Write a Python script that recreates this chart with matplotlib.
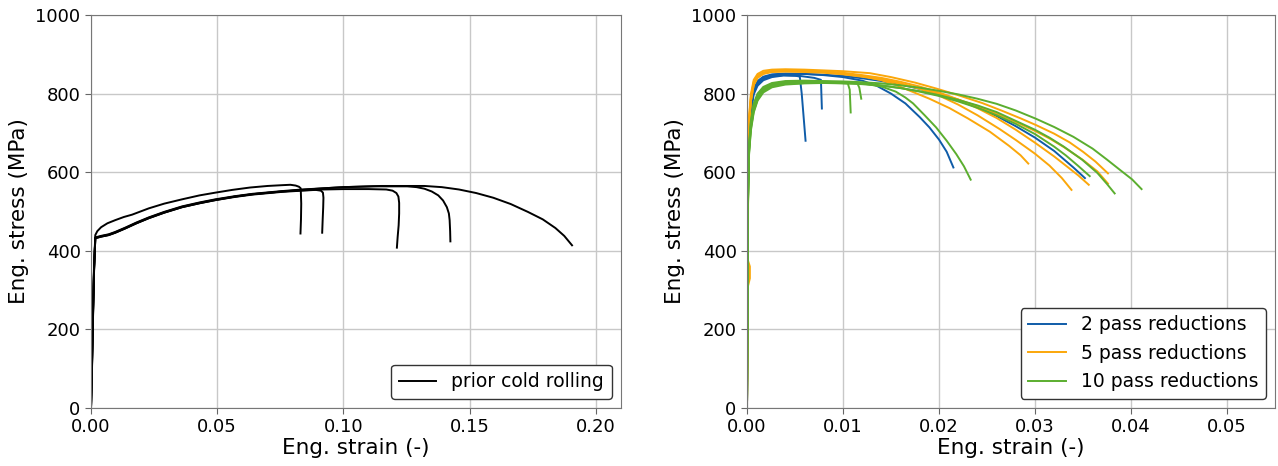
import matplotlib
matplotlib.use("Agg")
import matplotlib.pyplot as plt

# ---------------- prior cold rolling (left panel) ----------------
cr1_strain = [0.0, 0.0004, 0.0008, 0.0012, 0.0017, 0.0025, 0.0040, 0.0065, 0.0096, 0.0130, 0.0163, 0.0229, 0.0290, 0.0361, 0.0430, 0.0493, 0.0560, 0.0630, 0.0700, 0.0758, 0.0790, 0.0811, 0.0824, 0.0831, 0.0833, 0.0832, 0.0830]
cr1_stress = [0.0, 120, 250, 360, 440, 450, 460, 470, 478, 486, 492, 508, 520, 531, 541, 548, 555, 561, 565, 567, 568, 566, 563, 559, 520, 480, 444]

cr2_strain = [0.0, 0.0004, 0.0008, 0.0012, 0.0017, 0.0040, 0.0070, 0.0096, 0.0136, 0.0180, 0.0229, 0.0290, 0.0361, 0.0430, 0.0493, 0.0570, 0.0640, 0.0758, 0.0836, 0.0890, 0.0911, 0.0919, 0.0921, 0.0920, 0.0918, 0.0916]
cr2_stress = [0.0, 110, 240, 350, 432, 436, 440, 446, 457, 470, 483, 497, 511, 521, 529, 537, 543, 550, 553, 555, 553, 548, 535, 510, 480, 446]

cr3_strain = [0.0, 0.0004, 0.0008, 0.0012, 0.0017, 0.0040, 0.0070, 0.0096, 0.0136, 0.0180, 0.0229, 0.0290, 0.0361, 0.0430, 0.0493, 0.0570, 0.0640, 0.0758, 0.0836, 0.0920, 0.1000, 0.1100, 0.1170, 0.1195, 0.1210, 0.1218, 0.1221, 0.1221, 0.1219, 0.1215, 0.1212]
cr3_stress = [0.0, 100, 230, 345, 433, 437, 441, 447, 458, 471, 484, 498, 512, 522, 530, 538, 544, 551, 554, 556, 557, 557, 556, 553, 547, 538, 522, 495, 465, 435, 408]

cr4_strain = [0.0, 0.0004, 0.0008, 0.0012, 0.0017, 0.0040, 0.0070, 0.0096, 0.0136, 0.0180, 0.0229, 0.0290, 0.0361, 0.0430, 0.0493, 0.0570, 0.0640, 0.0758, 0.0836, 0.0920, 0.1000, 0.1120, 0.1253, 0.1290, 0.1321, 0.1350, 0.1376, 0.1395, 0.1410, 0.1418, 0.1421, 0.1423, 0.1424]
cr4_stress = [0.0, 115, 245, 355, 434, 438, 442, 448, 459, 472, 485, 499, 513, 523, 531, 539, 545, 552, 556, 559, 562, 564, 564, 562, 558, 551, 541, 528, 511, 495, 478, 450, 424]

cr5_strain = [0.0, 0.0004, 0.0008, 0.0012, 0.0017, 0.0040, 0.0070, 0.0096, 0.0136, 0.0180, 0.0229, 0.0290, 0.0361, 0.0430, 0.0493, 0.0570, 0.0640, 0.0758, 0.0836, 0.0920, 0.1000, 0.1150, 0.1321, 0.1390, 0.1458, 0.1526, 0.1594, 0.1663, 0.1731, 0.1790, 0.1840, 0.1875, 0.1906]
cr5_stress = [0.0, 105, 235, 350, 432, 436, 440, 446, 457, 470, 483, 497, 511, 521, 529, 538, 544, 551, 555, 559, 562, 565, 565, 562, 556, 547, 535, 519, 499, 480, 458, 438, 414]

# ---------------- 2 pass reductions ----------------
p2a_strain = [0.0, 0.00005, 0.0001, 0.0002, 0.0004, 0.0007, 0.0011, 0.0017, 0.0026, 0.0038, 0.0050, 0.0055, 0.0057, 0.0059, 0.0061]
p2a_stress = [0.0, 300, 560, 690, 760, 805, 825, 837, 844, 847, 846, 843, 800, 740, 680]

p2b_strain = [0.0, 0.00005, 0.0001, 0.0002, 0.0004, 0.0007, 0.0011, 0.0017, 0.0026, 0.0038, 0.0055, 0.0070, 0.0077, 0.0078]
p2b_stress = [0.0, 290, 550, 680, 750, 798, 820, 834, 842, 846, 845, 840, 835, 762]

p2c_strain = [0.0, 0.00005, 0.0001, 0.0002, 0.0004, 0.0007, 0.0011, 0.0017, 0.0026, 0.0040, 0.0060, 0.0080, 0.0100, 0.0120, 0.0135, 0.0150, 0.0165, 0.0180, 0.0190, 0.0200, 0.0208, 0.0215]
p2c_stress = [0.0, 310, 570, 700, 770, 812, 832, 843, 849, 851, 850, 847, 842, 833, 820, 800, 775, 740, 714, 683, 652, 612]

p2d_strain = [0.0, 0.00005, 0.0001, 0.0002, 0.0004, 0.0007, 0.0011, 0.0017, 0.0026, 0.0040, 0.0060, 0.0080, 0.0100, 0.0120, 0.0140, 0.0160, 0.0180, 0.0200, 0.0220, 0.0240, 0.0260, 0.0280, 0.0300, 0.0320, 0.0340, 0.0352]
p2d_stress = [0.0, 305, 565, 695, 765, 808, 829, 841, 847, 850, 850, 848, 845, 839, 832, 823, 812, 799, 784, 765, 743, 717, 688, 654, 612, 585]

# ---------------- 5 pass reductions ----------------
p5a_strain = [0.0, 0.00005, 0.0001, 0.0002, 0.0004, 0.0007, 0.0011, 0.0017, 0.0026, 0.0040, 0.0060, 0.0080, 0.0100, 0.0120, 0.0140, 0.0155, 0.0169, 0.0190, 0.0211, 0.0230, 0.0253, 0.0273, 0.0285, 0.0293]
p5a_stress = [0.0, 320, 590, 720, 785, 825, 843, 852, 857, 858, 857, 855, 850, 845, 834, 822, 808, 787, 763, 737, 703, 667, 643, 622]

p5b_strain = [0.0, 0.0001, 0.0003, 0.0003, 0.0001, 0.00012, 0.0002, 0.0004, 0.0007, 0.0011, 0.0017, 0.0026, 0.0040, 0.0060, 0.0080, 0.0100, 0.0120, 0.0140, 0.0160, 0.0180, 0.0200, 0.0220, 0.0240, 0.0263, 0.0280, 0.0300, 0.0315, 0.0328, 0.0338]
p5b_stress = [0.0, 310, 330, 360, 375, 600, 715, 780, 822, 841, 851, 856, 857, 856, 855, 851, 845, 837, 826, 812, 795, 772, 745, 710, 682, 647, 617, 585, 555]

p5c_strain = [0.0, 0.00005, 0.0001, 0.0002, 0.0004, 0.0007, 0.0011, 0.0017, 0.0026, 0.0040, 0.0060, 0.0080, 0.0100, 0.0120, 0.0140, 0.0160, 0.0180, 0.0200, 0.0220, 0.0240, 0.0260, 0.0280, 0.0300, 0.0320, 0.0332, 0.0345, 0.0356]
p5c_stress = [0.0, 330, 600, 730, 792, 830, 846, 854, 858, 859, 858, 857, 853, 847, 840, 830, 818, 803, 785, 763, 738, 708, 675, 640, 617, 592, 568]

p5d_strain = [0.0, 0.00005, 0.0001, 0.0002, 0.0004, 0.0007, 0.0011, 0.0017, 0.0026, 0.0040, 0.0060, 0.0080, 0.0100, 0.0128, 0.0150, 0.0175, 0.0197, 0.0220, 0.0245, 0.0266, 0.0285, 0.0301, 0.0320, 0.0336, 0.0350, 0.0363, 0.0376]
p5d_stress = [0.0, 335, 605, 735, 798, 835, 850, 858, 861, 862, 861, 859, 857, 852, 842, 828, 813, 796, 776, 756, 737, 720, 698, 676, 652, 627, 597]

p5e_strain = [0.0, 0.00005, 0.0001, 0.0002, 0.0004, 0.0007, 0.0011, 0.0017, 0.0026, 0.0040, 0.0060, 0.0080, 0.0100, 0.0120, 0.0140, 0.0160, 0.0180, 0.0200, 0.0220, 0.0240, 0.0260, 0.0280, 0.0300, 0.0315, 0.0330, 0.0350, 0.0365, 0.0376]
p5e_stress = [0.0, 315, 585, 715, 780, 822, 840, 850, 855, 856, 855, 853, 849, 843, 835, 825, 813, 800, 785, 768, 749, 728, 705, 686, 664, 631, 602, 571]

# ---------------- 10 pass reductions ----------------
p10a_strain = [0.0, 0.00005, 0.0001, 0.0002, 0.0004, 0.0007, 0.0011, 0.0017, 0.0026, 0.0040, 0.0060, 0.0090, 0.0105, 0.0107, 0.0108]
p10a_stress = [0.0, 280, 520, 650, 715, 760, 788, 808, 820, 826, 828, 828, 826, 810, 752]

p10b_strain = [0.0, 0.00005, 0.0001, 0.0002, 0.0004, 0.0007, 0.0011, 0.0017, 0.0026, 0.0040, 0.0060, 0.0090, 0.0115, 0.0117, 0.0119]
p10b_stress = [0.0, 275, 515, 645, 710, 755, 785, 806, 819, 825, 827, 827, 826, 815, 787]

p10c_strain = [0.0, 0.00005, 0.0001, 0.0002, 0.0004, 0.0007, 0.0011, 0.0017, 0.0026, 0.0040, 0.0060, 0.0080, 0.0100, 0.0120, 0.0140, 0.0155, 0.0165, 0.0173, 0.0185, 0.0197, 0.0208, 0.0218, 0.0226, 0.0233]
p10c_stress = [0.0, 285, 525, 655, 720, 765, 792, 811, 823, 829, 831, 830, 829, 826, 818, 805, 790, 775, 745, 714, 680, 646, 615, 581]

p10d_strain = [0.0, 0.00005, 0.0001, 0.0002, 0.0004, 0.0007, 0.0011, 0.0017, 0.0026, 0.0040, 0.0060, 0.0080, 0.0100, 0.0120, 0.0140, 0.0160, 0.0180, 0.0200, 0.0220, 0.0240, 0.0260, 0.0280, 0.0300, 0.0320, 0.0332, 0.0345, 0.0357]
p10d_stress = [0.0, 290, 530, 660, 725, 770, 796, 814, 825, 830, 831, 830, 829, 826, 821, 814, 805, 794, 780, 764, 745, 723, 697, 665, 643, 616, 590]

p10e_strain = [0.0, 0.00005, 0.0001, 0.0002, 0.0004, 0.0007, 0.0011, 0.0017, 0.0026, 0.0040, 0.0060, 0.0080, 0.0100, 0.0120, 0.0140, 0.0160, 0.0180, 0.0200, 0.0220, 0.0240, 0.0260, 0.0284, 0.0300, 0.0315, 0.0330, 0.0349, 0.0365, 0.0375, 0.0383]
p10e_stress = [0.0, 270, 510, 640, 705, 752, 782, 803, 816, 823, 826, 827, 826, 824, 820, 814, 806, 796, 784, 770, 753, 726, 708, 688, 665, 632, 598, 570, 546]

p10f_strain = [0.0, 0.00005, 0.0001, 0.0002, 0.0004, 0.0007, 0.0011, 0.0017, 0.0026, 0.0040, 0.0060, 0.0080, 0.0100, 0.0120, 0.0140, 0.0160, 0.0180, 0.0200, 0.0220, 0.0240, 0.0260, 0.0280, 0.0301, 0.0320, 0.0340, 0.0360, 0.0375, 0.0390, 0.0401, 0.0411]
p10f_stress = [0.0, 295, 535, 665, 730, 775, 800, 817, 827, 832, 833, 832, 831, 829, 826, 821, 815, 807, 798, 787, 774, 757, 736, 715, 690, 660, 632, 603, 582, 557]

cold_rolling = [(cr1_strain, cr1_stress), (cr2_strain, cr2_stress), (cr3_strain, cr3_stress),
                (cr4_strain, cr4_stress), (cr5_strain, cr5_stress)]
pass2 = [(p2a_strain, p2a_stress), (p2b_strain, p2b_stress), (p2c_strain, p2c_stress), (p2d_strain, p2d_stress)]
pass5 = [(p5a_strain, p5a_stress), (p5b_strain, p5b_stress), (p5c_strain, p5c_stress),
         (p5d_strain, p5d_stress), (p5e_strain, p5e_stress)]
pass10 = [(p10a_strain, p10a_stress), (p10b_strain, p10b_stress), (p10c_strain, p10c_stress),
          (p10d_strain, p10d_stress), (p10e_strain, p10e_stress), (p10f_strain, p10f_stress)]

left_xticks = [0.00, 0.05, 0.10, 0.15, 0.20]
right_xticks = [0.00, 0.01, 0.02, 0.03, 0.04, 0.05]
yticks = [0, 200, 400, 600, 800, 1000]

BLUE = "#0f5ca8"
ORANGE = "#fba70a"
GREEN = "#5bae2f"

plt.rcParams["font.family"] = "DejaVu Sans"

fig = plt.figure(figsize=(12.78, 4.66), dpi=100)
ax1 = fig.add_axes([91 / 1278, 1 - 408 / 466, 530 / 1278, 393 / 466])
ax2 = fig.add_axes([747 / 1278, 1 - 408 / 466, 528 / 1278, 393 / 466])


def style(ax, xlim, xticks):
    ax.set_xlim(*xlim)
    ax.set_ylim(0, 1000)
    ax.set_xticks(xticks)
    ax.set_yticks(yticks)
    ax.set_xticklabels([f"{t:.2f}" for t in xticks])
    ax.grid(True, color="#c8c8c8", linewidth=1.0)
    ax.set_axisbelow(True)
    ax.tick_params(labelsize=13, color="#666666", length=4)
    for s in ax.spines.values():
        s.set_color("#777777")
    ax.set_xlabel("Eng. strain (-)", fontsize=15.5, labelpad=1)
    ax.set_ylabel("Eng. stress (MPa)", fontsize=15.5, labelpad=5)


for i, (x, y) in enumerate(cold_rolling):
    ax1.plot(x, y, color="black", lw=1.4, label="prior cold rolling" if i == 0 else None)
style(ax1, (0, 0.21), left_xticks)
ax1.legend(loc="lower right", fontsize=13.5, framealpha=1, edgecolor="#333333", fancybox=True,
           borderaxespad=0.5)

for group, color, name in [(pass2, BLUE, "2 pass reductions"),
                           (pass5, ORANGE, "5 pass reductions"),
                           (pass10, GREEN, "10 pass reductions")]:
    for i, (x, y) in enumerate(group):
        ax2.plot(x, y, color=color, lw=1.4, label=name if i == 0 else None)
style(ax2, (0, 0.055), right_xticks)
ax2.legend(loc="lower right", fontsize=13.5, framealpha=1, edgecolor="#333333", fancybox=True,
           borderaxespad=0.5)

fig.savefig("out.png", dpi=100)
